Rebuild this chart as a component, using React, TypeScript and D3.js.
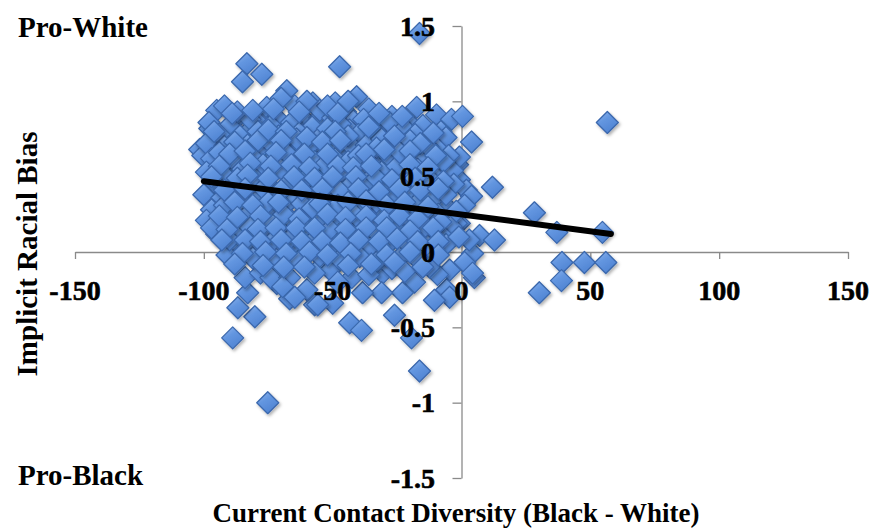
import { useEffect, useRef } from 'react';
import * as d3 from 'd3';

// contact diversity (x) vs implicit bias (y)
const POINTS: [number, number][] = [
  // outliers / edge points
  [-83.3, 1.25], [-77.5, 1.18], [-85, 1.13], [-47.3, 1.23], [-16.3, 1.45], [-40.7, 1.03],
  [-17.4, 0.96], [-9.7, 0.91], [-3.9, 0.88], [0.4, 0.9], [3.9, 0.73], [56.6, 0.86],
  [12, 0.43], [-1.5, 0.58], [-7.3, 0.53], [-0.8, 0.48], [1.9, 0.41], [3.9, 0.37],
  [1.2, 0.31], [28.3, 0.26], [-0.8, 0.19], [37, 0.13], [54.7, 0.13], [7, 0.11],
  [12.8, 0.08], [4.3, -0.01], [1.2, -0.07], [39, -0.07], [47.7, -0.07], [56, -0.07],
  [38.8, -0.19], [30.2, -0.27], [5, -0.17], [-4.6, -0.12], [-5.8, -0.25], [-4.6, -0.3],
  [-16.3, -0.79], [-75.2, -1.0], [-88.8, -0.57], [-80.2, -0.43], [-86.8, -0.37], [-83, -0.27],
  [-84, -0.17], [-66.7, -0.31], [-57, -0.35], [-71.7, -0.21], [-78, -0.14], [-43.4, -0.47],
  [-38.8, -0.52], [-26, -0.42], [-19.4, -0.57], [-30.6, -0.14], [-27, -0.11], [-18.2, -0.2],
  [-22.9, -0.27], [-31, -0.27], [-38.4, -0.27], [-50, -0.34], [-10.5, -0.32], [-9.3, -0.15],
  [-51, -0.12], [-42.6, -0.17], [4.3, -0.14],
  // upper-left edge
  [-67.8, 1.07], [-95, 0.94], [-87, 0.89], [-97.7, 0.82], [-101.6, 0.68], [-75.6, 0.96],
  [-64.7, 0.97], [-57.7, 0.99], [-79.5, 0.87], [-71.7, 0.89], [-61.6, 0.89], [-55, 0.89],
  [-83.3, 0.79], [-90, 0.75], [-77, 0.76], [-66.7, 0.81], [-59, 0.79], [-95, 0.68],
  [-86, 0.68], [-78.3, 0.68], [-70.5, 0.7], [-61.6, 0.7], [-53.9, 0.7],
  [-100.4, 0.64], [-96.5, 0.54], [-90, 0.59], [-95, 0.34], [-96.5, 0.23], [-92.6, 0.17],
  [-91, 0.06], [-87, -0.01],
  // upper-middle
  [-49, 0.99], [-55, 0.94], [-45, 0.93], [-50, 0.89], [-42, 0.87], [-34.5, 0.87],
  [-31.8, 0.83], [-43.4, 0.81], [-25, 0.81], [-20, 0.85], [-51, 0.76], [-38.4, 0.74],
  [-29, 0.73], [-12.4, 0.74], [-22.9, 0.7], [-47.3, 0.68], [-17.4, 0.66], [-34.5, 0.66],
  // right side of the cloud
  [-0.8, 0.63], [-2, 0.19], [-5.8, 0.3], [-11, 0.54], [-3.5, 0.54], [-7.4, 0.43],
  [-16.3, 0.32], [-13.6, 0.15], [-19, 0.17], [-5.8, 0.08], [3, 0.08],
  // dense core
  [-92, 0.97], [-70, 1.02], [-52, 0.97], [-36, 0.95], [-27, 0.9], [-60, 1.0], [-44, 1.0],
  [-98, 0.86], [-90, 0.84], [-82, 0.88], [-74, 0.84], [-66, 0.86], [-58, 0.83], [-47, 0.85],
  [-38, 0.88], [-28, 0.86], [-22, 0.82], [-15, 0.84], [-8, 0.8],
  [-94, 0.78], [-86, 0.77], [-79, 0.8], [-71, 0.77], [-63, 0.79], [-55, 0.76], [-40, 0.78],
  [-34, 0.8], [-18, 0.78], [-6, 0.76],
  [-99, 0.72], [-92, 0.7], [-83, 0.71], [-74, 0.72], [-66, 0.69], [-58, 0.72], [-50, 0.7],
  [-42, 0.69], [-37, 0.71], [-26, 0.72], [-20, 0.74], [-9, 0.68],
  [-97, 0.62], [-88, 0.6], [-81, 0.63], [-73, 0.61], [-65, 0.63], [-57, 0.6], [-49, 0.62],
  [-44, 0.6], [-35, 0.61], [-28, 0.63], [-22, 0.6], [-14, 0.62], [-5, 0.64],
  [-99, 0.53], [-92, 0.51], [-85, 0.55], [-78, 0.53], [-70, 0.55], [-62, 0.52], [-54, 0.54],
  [-46, 0.52], [-39, 0.55], [-31, 0.53], [-24, 0.51], [-17, 0.55], [-10, 0.5],
  [-96, 0.46], [-88, 0.44], [-81, 0.47], [-74, 0.43], [-67, 0.46], [-59, 0.44], [-52, 0.47],
  [-44, 0.43], [-37, 0.46], [-29, 0.44], [-21, 0.46], [-14, 0.42], [-3, 0.45],
  [-100, 0.38], [-93, 0.36], [-86, 0.39], [-79, 0.35], [-72, 0.38], [-64, 0.36], [-57, 0.39],
  [-49, 0.35], [-42, 0.38], [-34, 0.36], [-26, 0.39], [-19, 0.37], [-11, 0.35],
  [-97, 0.28], [-90, 0.26], [-83, 0.29], [-76, 0.27], [-69, 0.3], [-61, 0.26], [-53, 0.29],
  [-46, 0.27], [-38, 0.3], [-31, 0.26], [-23, 0.28], [-9, 0.25],
  [-99, 0.21], [-88, 0.2], [-80, 0.22], [-73, 0.18], [-66, 0.21], [-58, 0.19], [-50, 0.22],
  [-43, 0.18], [-35, 0.2], [-27, 0.22], [-20, 0.19], [-11, 0.21], [-4, 0.17],
  [-95, 0.12], [-85, 0.13], [-77, 0.11], [-70, 0.14], [-62, 0.11], [-55, 0.13], [-47, 0.1],
  [-40, 0.13], [-32, 0.11], [-24, 0.14], [-16, 0.1], [-8, 0.12],
  [-89, 0.05], [-81, 0.03], [-74, 0.06], [-66, 0.04], [-59, 0.05], [-51, 0.02], [-44, 0.05],
  [-36, 0.03], [-28, 0.06], [-21, 0.03], [-13, 0.04],
  [-91, -0.02], [-81, -0.04], [-71.7, -0.05], [-63, -0.06], [-55, -0.03], [-47.3, -0.05],
  [-39.5, -0.03], [-33, -0.07], [-24, -0.04], [-12.4, -0.1], [-17, -0.05],
  [-74, -0.17], [-66.7, -0.17], [-69.4, -0.23], [-60, -0.25], [-64.7, -0.3], [-55.8, -0.35],
  [-57, -0.14], [-48, -0.2], [-36, -0.15], [-22, -0.13],
  [-94, 0.66], [-87, 0.49], [-77, 0.58], [-68, 0.66], [-61, 0.48], [-53, 0.58], [-47, 0.4],
  [-40, 0.64], [-33, 0.49], [-25, 0.57], [-18, 0.31], [-92, 0.31], [-84, 0.23], [-77, 0.42],
  [-69, 0.25], [-62, 0.32], [-55, 0.2], [-48, 0.31], [-41, 0.24], [-33, 0.33], [-26, 0.16],
  [-15, 0.25], [-97, 0.16], [-90, 0.08], [-82, 0.16], [-75, 0.33], [-67, 0.08], [-58, 0.29],
  [-51, 0.15], [-44, 0.77], [-52, 0.82], [-79, 0.74], [-87, 0.93], [-64, 0.75], [-31, 0.75],
  [-24, 0.66], [-13, 0.7], [-7, 0.6], [-12, 0.48], [-6, 0.38], [-2, 0.27], [-14, 0.17],
  [-6, 0.05], [-1, 0.1],
  // second layer filling the core
  [-89, 0.92], [-81, 0.94], [-73, 0.95], [-63, 0.93], [-48, 0.92], [-32, 0.92], [-23, 0.9],
  [-96, 0.8], [-75, 0.81], [-68, 0.8], [-49, 0.8], [-36, 0.83], [-26, 0.77], [-11, 0.79],
  [-88, 0.73], [-70, 0.74], [-60, 0.76], [-54, 0.73], [-47, 0.74], [-33, 0.69], [-16, 0.72],
  [-90, 0.65], [-84, 0.67], [-72, 0.66], [-61, 0.65], [-52, 0.65], [-37, 0.65], [-30, 0.68],
  [-20, 0.67], [-10, 0.64],
  [-94, 0.57], [-82, 0.59], [-74, 0.57], [-66, 0.58], [-59, 0.56], [-48, 0.57], [-42, 0.56],
  [-35, 0.57], [-20, 0.58], [-13, 0.56],
  [-97, 0.5], [-83, 0.51], [-75, 0.49], [-65, 0.5], [-57, 0.49], [-50, 0.5], [-41, 0.5],
  [-27, 0.48], [-18, 0.49], [-7, 0.47],
  [-92, 0.41], [-84, 0.42], [-70, 0.41], [-62, 0.41], [-54, 0.42], [-40, 0.42], [-32, 0.4],
  [-24, 0.42], [-16, 0.41], [-9, 0.42],
  [-88, 0.33], [-81, 0.31], [-71, 0.33], [-55, 0.32], [-44, 0.33], [-37, 0.34], [-29, 0.31],
  [-22, 0.33], [-13, 0.3],
  [-94, 0.24], [-87, 0.23], [-78, 0.24], [-63, 0.22], [-52, 0.25], [-45, 0.23], [-37, 0.24],
  [-30, 0.21], [-24, 0.24], [-17, 0.22], [-8, 0.2],
  [-91, 0.15], [-79, 0.15], [-72, 0.16], [-64, 0.16], [-57, 0.16], [-45, 0.15], [-37, 0.16],
  [-29, 0.16], [-20, 0.14], [-11, 0.16],
  [-93, 0.08], [-84, 0.08], [-78, 0.07], [-70, 0.08], [-62, 0.07], [-54, 0.07], [-47, 0.06],
  [-40, 0.08], [-32, 0.07], [-25, 0.09], [-17, 0.07], [-9, 0.07],
  [-85, -0.01], [-76, 0.0], [-68, -0.01], [-59, 0.0], [-52, -0.02], [-43, -0.01], [-29, -0.02],
  [-20, 0.0], [-9, -0.02],
  [-88, -0.08], [-77, -0.09], [-69, -0.1], [-61, -0.1], [-44, -0.09], [-35, -0.08], [-26, -0.07],
  [-15, -0.1],
];

const X_TICKS = [-150, -100, -50, 0, 50, 100, 150];
const Y_TICKS = [1.5, 1, 0.5, 0, -0.5, -1, -1.5];
const TREND_X = [-100, 58];
const TREND_Y = [0.47, 0.12];

const W = 876;
const H = 529;
const FONT = '"Liberation Serif", "Times New Roman", serif';

export default function App() {
  const svgRef = useRef<SVGSVGElement>(null);

  useEffect(() => {
    const svg = d3.select(svgRef.current);
    svg.selectAll('*').remove();

    const x = d3.scaleLinear().domain([-150, 150]).range([75, 848]);
    const y = d3.scaleLinear().domain([-1.5, 1.5]).range([478, 26]);

    const defs = svg.append('defs');
    const grad = defs.append('linearGradient').attr('id', 'dia').attr('x1', 0).attr('y1', 0).attr('x2', 0.6).attr('y2', 1);
    grad.append('stop').attr('offset', 0).attr('stop-color', '#93b8ee');
    grad.append('stop').attr('offset', 0.45).attr('stop-color', '#6396e0');
    grad.append('stop').attr('offset', 1).attr('stop-color', '#4f83d2');
    defs.append('filter').attr('id', 'shadow').attr('x', '-50%').attr('y', '-50%').attr('width', '200%').attr('height', '200%')
      .append('feDropShadow').attr('dx', 1.5).attr('dy', 2).attr('stdDeviation', 1.6)
      .attr('flood-color', '#000').attr('flood-opacity', 0.3);

    // axes
    const axisColor = '#8a8a8a';
    svg.append('g')
      .attr('transform', `translate(0,${y(0)})`)
      .call(d3.axisBottom(x).tickValues(X_TICKS).tickSize(7).tickSizeOuter(0).tickFormat(() => ''))
      .call(ax => ax.select('.domain').attr('stroke', axisColor).attr('stroke-width', 1.3))
      .call(ax => ax.selectAll('.tick line').attr('stroke', axisColor).attr('stroke-width', 1.3));
    svg.append('g')
      .attr('transform', `translate(${x(0)},0)`)
      .call(d3.axisLeft(y).tickValues(Y_TICKS).tickSize(9).tickSizeOuter(0).tickFormat(() => ''))
      .call(ax => ax.select('.domain').attr('stroke', axisColor).attr('stroke-width', 1.3))
      .call(ax => ax.selectAll('.tick line').attr('stroke', axisColor).attr('stroke-width', 1.3));

    // diamonds
    const r = 11;
    svg.append('g')
      .selectAll('path')
      .data(POINTS)
      .join('path')
      .attr('d', d => `M${x(d[0])},${y(d[1]) - r}L${x(d[0]) + r},${y(d[1])}L${x(d[0])},${y(d[1]) + r}L${x(d[0]) - r},${y(d[1])}Z`)
      .attr('fill', 'url(#dia)')
      .attr('stroke', '#3b68ad')
      .attr('stroke-width', 1.3)
      .attr('stroke-linejoin', 'round')
      .attr('filter', 'url(#shadow)');

    // trend line
    svg.append('line')
      .attr('x1', x(TREND_X[0])).attr('y1', y(TREND_Y[0]))
      .attr('x2', x(TREND_X[1])).attr('y2', y(TREND_Y[1]))
      .attr('stroke', '#000').attr('stroke-width', 6).attr('stroke-linecap', 'round');

    // tick labels (slight stroke to match the heavy print weight)
    const lab = svg.append('g').attr('font-family', FONT).attr('fill', '#000');
    lab.selectAll('text.xl').data(X_TICKS).join('text')
      .attr('class', 'xl')
      .attr('x', d => x(d)).attr('y', 300)
      .attr('text-anchor', 'middle').attr('font-size', 28).attr('font-weight', 'bold')
      .attr('stroke', '#000').attr('stroke-width', 0.6)
      .text(d => String(d));
    lab.selectAll('text.yl').data(Y_TICKS).join('text')
      .attr('class', 'yl')
      .attr('x', 435).attr('y', d => y(d)).attr('dy', '0.35em')
      .attr('text-anchor', 'end').attr('font-size', 28).attr('font-weight', 'bold')
      .attr('stroke', '#000').attr('stroke-width', 0.6)
      .text(d => String(d));

    // titles
    lab.append('text').attr('x', 18).attr('y', 37).attr('font-size', 29).attr('font-weight', 'bold').text('Pro-White');
    lab.append('text').attr('x', 18).attr('y', 485).attr('font-size', 29).attr('font-weight', 'bold').text('Pro-Black');
    lab.append('text')
      .attr('transform', 'translate(37,254) rotate(-90)')
      .attr('text-anchor', 'middle').attr('font-size', 29).attr('font-weight', 'bold')
      .text('Implicit Racial Bias');
    lab.append('text')
      .attr('x', 456).attr('y', 522)
      .attr('text-anchor', 'middle').attr('font-size', 27).attr('font-weight', 'bold')
      .text('Current Contact Diversity (Black - White)');
  }, []);

  return (
    <div style={{ position: 'fixed', left: 0, top: 0, background: '#fff' }}>
      <svg ref={svgRef} width={W} height={H} style={{ display: 'block' }} />
    </div>
  );
}
